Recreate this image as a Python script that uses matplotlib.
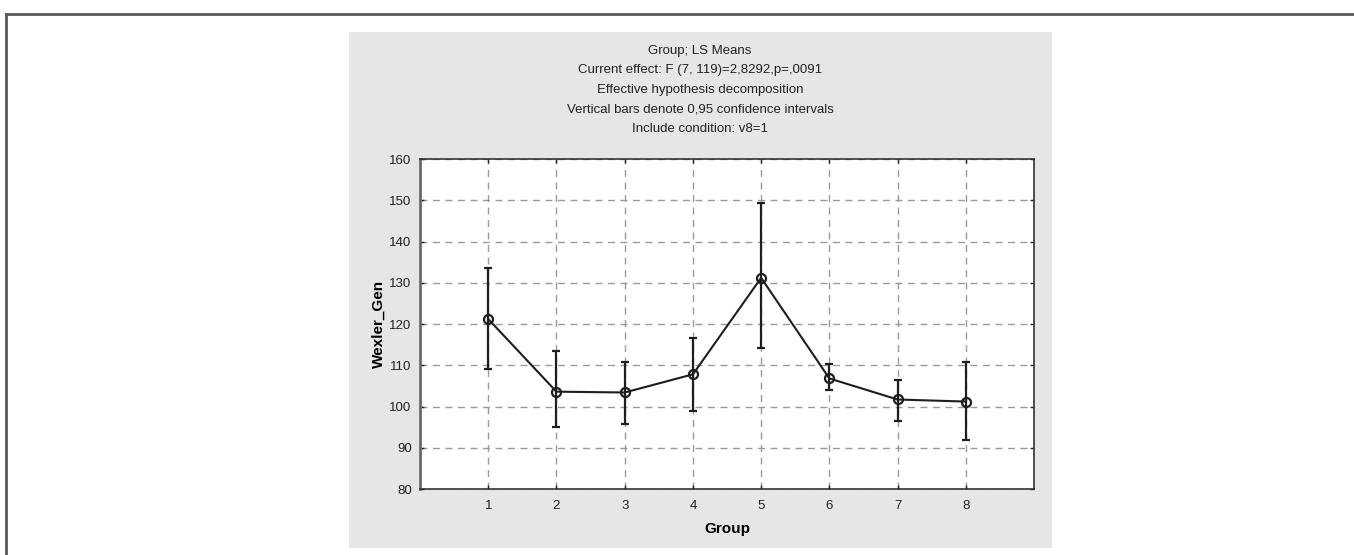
import matplotlib.pyplot as plt
from matplotlib.patches import Rectangle
from matplotlib.lines import Line2D

plt.rcParams['font.family'] = ['Liberation Sans', 'DejaVu Sans']

# LS means per group with 0.95 confidence limits
groups = [1, 2, 3, 4, 5, 6, 7, 8]
means = [121.2, 103.6, 103.4, 107.8, 131.2, 106.8, 101.7, 101.2]
upper = [133.6, 113.5, 110.9, 116.6, 149.4, 110.3, 106.4, 110.9]
lower = [109.0, 95.1, 95.8, 98.9, 114.1, 104.0, 96.5, 92.0]

title_lines = [
    'Group; LS Means',
    'Current effect: F (7, 119)=2,8292,p=,0091',
    'Effective hypothesis decomposition',
    'Vertical bars denote 0,95 confidence intervals',
    'Include condition: v8=1',
]
y_ticks = [80, 90, 100, 110, 120, 130, 140, 150, 160]

fig = plt.figure(figsize=(13.54, 5.55), dpi=100)

# grey background panel and the outer frame
fig.add_artist(Rectangle((0.2578, 0.0126), 0.5192, 0.9297,
                         transform=fig.transFigure, facecolor='#e6e6e6',
                         edgecolor='none', zorder=-2))
fig.add_artist(Line2D([0.0048, 1.0], [0.975, 0.975], transform=fig.transFigure,
                      color='#5a5a5a', lw=2, zorder=-1))
fig.add_artist(Line2D([0.0048, 0.0048], [0.0, 0.975], transform=fig.transFigure,
                      color='#5a5a5a', lw=2, zorder=-1))

ax = fig.add_axes([0.3102, 0.1189, 0.4535, 0.5946])
ax.set_facecolor('white')

err_lo = [m - l for m, l in zip(means, lower)]
err_hi = [u - m for m, u in zip(means, upper)]
ax.errorbar(groups, means, yerr=[err_lo, err_hi], fmt='none', ecolor='#1e1e1e',
            elinewidth=1.6, capsize=3, capthick=1.6, zorder=3)
ax.plot(groups, means, color='#1e1e1e', lw=1.5, marker='o', ms=6.5,
        mfc='none', mec='#1e1e1e', mew=1.6, zorder=4)

ax.set_xlim(0, 9)
ax.set_ylim(80, 160)
ax.set_xticks(groups)
ax.set_yticks(y_ticks)
ax.grid(True, which='major', color='#9a9a9a', ls=(0, (5, 4)), lw=1)
ax.tick_params(labelsize=9.5, colors='#222222', length=3, width=1,
               top=True, right=True, direction='in', pad=6)
ax.tick_params(axis='x', pad=8)

for side in ['top', 'bottom', 'right']:
    ax.spines[side].set_color('#333333')
    ax.spines[side].set_linewidth(1.2)
ax.spines['left'].set_color('#6a6a6a')
ax.spines['left'].set_linewidth(2)

ax.set_xlabel('Group', fontsize=11, fontweight='bold', labelpad=7)
ax.set_ylabel('Wexler_Gen', fontsize=11, fontweight='bold', labelpad=3)

for i, line in enumerate(title_lines):
    fig.text(0.517, 1 - (51 + 19.5 * i) / 555, line, ha='center', va='center',
             fontsize=9.5, color='#222222')

fig.savefig('out.png', dpi=100)
